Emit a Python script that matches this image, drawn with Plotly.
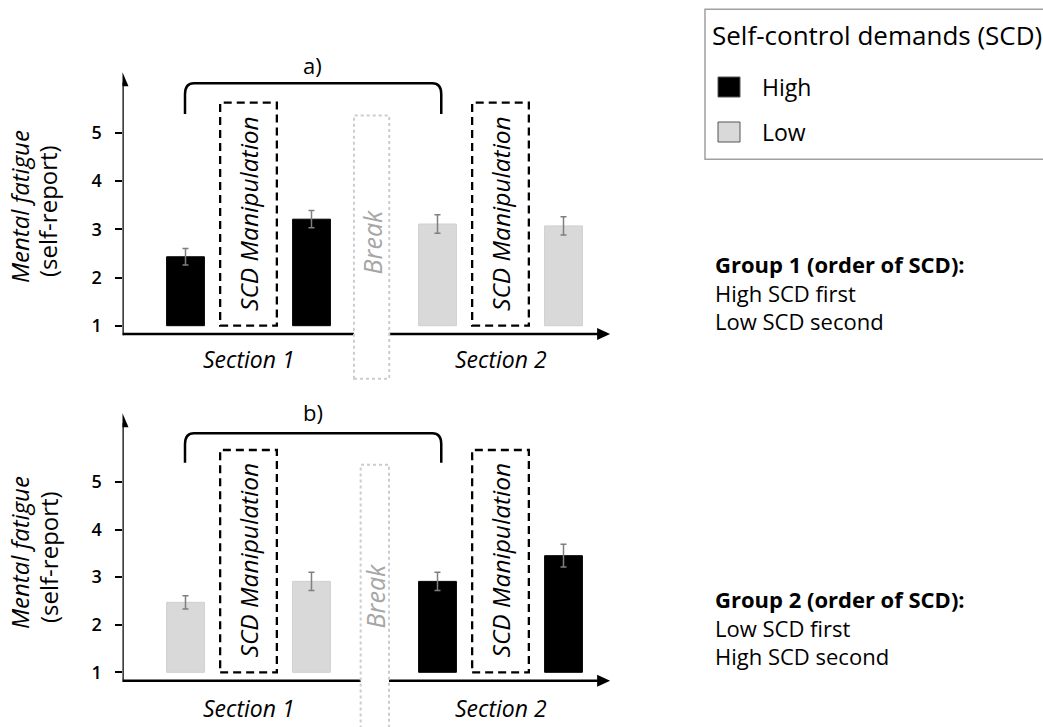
import plotly.graph_objects as go

W, H = 1043, 727

# ---- data -------------------------------------------------------------
scd_levels = ["High", "Low"]
colors = {"High": "#000000", "Low": "#d9d9d9"}

# Group 1: high SCD in section 1, low SCD in section 2
g1_high_pos = [0.5, 1.5]
g1_high = [2.43, 3.21]
g1_high_err = [0.17, 0.18]
g1_low_pos = [2.5, 3.5]
g1_low = [3.11, 3.07]
g1_low_err = [0.19, 0.19]

# Group 2: low SCD in section 1, high SCD in section 2
g2_low_pos = [0.5, 1.5]
g2_low = [2.47, 2.91]
g2_low_err = [0.14, 0.19]
g2_high_pos = [2.5, 3.5]
g2_high = [2.91, 3.45]
g2_high_err = [0.19, 0.24]

y_ticks = [1, 2, 3, 4, 5]
section_labels = ["Section 1", "Section 2"]
panel_labels = ["a)", "b)"]
group_texts = [
    "<b>Group 1 (order of SCD):</b><br>High SCD first<br>Low SCD second",
    "<b>Group 2 (order of SCD):</b><br>Low SCD first<br>High SCD second",
]

# ---- layout geometry (pixels) ------------------------------------------
UNIT = 126.0                  # px per x unit
X0_PX, X1_PX = 122.5, 630.0
panels = [
    dict(y1=325.7, ppu=48.2, top=50, bot=380, xline=0.828, ytip=6.26,
         brk=(1.837, 2.117, 5.36, -0.1), box_top=5.63, br_b=5.39, br_t=6.03,
         lab_y=6.41, sec_y=0.31, brk_txt=2.72, title_y=(207, 211), group_y=293),
    dict(y1=672.3, ppu=47.6, top=395, bot=727, xline=0.824, ytip=6.44,
         brk=(1.89, 2.115, 5.36, -0.2), box_top=5.67, br_b=5.40, br_t=6.02,
         lab_y=6.47, sec_y=0.24, brk_txt=2.59, title_y=(553, 557), group_y=627),
]

FONT = "Open Sans"

fig = go.Figure()

series = [
    [(g1_high_pos, g1_high, g1_high_err, "High"), (g1_low_pos, g1_low, g1_low_err, "Low")],
    [(g2_low_pos, g2_low, g2_low_err, "Low"), (g2_high_pos, g2_high, g2_high_err, "High")],
]

for i, panel_series in enumerate(series):
    xa = "x" if i == 0 else "x2"
    ya = "y" if i == 0 else "y2"
    for pos, vals, errs, lvl in panel_series:
        fig.add_trace(go.Bar(
            x=pos, y=[v - 1 for v in vals], base=1,
            width=0.30, xaxis=xa, yaxis=ya, name=lvl, showlegend=False,
            marker=dict(color=colors[lvl],
                        line=dict(color=colors[lvl] if lvl == "High" else "#cfcfcf", width=1)),
            error_y=dict(type="data", array=errs, color="#7f7f7f", thickness=1.5, width=3),
            customdata=vals, hovertemplate="%{customdata:.2f}<extra>" + lvl + "</extra>",
        ))

shapes = []
annotations = []
layout_axes = {}

for i, p in enumerate(panels):
    xa = "x" if i == 0 else "x2"
    ya = "y" if i == 0 else "y2"
    xkey = "xaxis" if i == 0 else "xaxis2"
    ykey = "yaxis" if i == 0 else "yaxis2"
    ylo = 1 - (p["bot"] - p["y1"]) / p["ppu"]
    yhi = 1 + (p["y1"] - p["top"]) / p["ppu"]
    layout_axes[xkey] = dict(domain=[X0_PX / W, X1_PX / W], range=[0, (X1_PX - X0_PX) / UNIT],
                             visible=False, fixedrange=True, anchor=ya)
    layout_axes[ykey] = dict(domain=[1 - p["bot"] / H, 1 - p["top"] / H], range=[ylo, yhi],
                             tickvals=y_ticks, ticks="outside", ticklen=7, tickwidth=1.5,
                             tickcolor="#000", showgrid=False, zeroline=False, showline=False,
                             ticklabelstandoff=9,
                             tickfont=dict(family=FONT, size=18, color="#000", weight=600),
                             fixedrange=True, anchor=xa)

    px_x = 1 / UNIT
    px_y = 1 / p["ppu"]

    # x axis line with arrow
    x_tip = 3.87
    shapes.append(dict(type="line", xref=xa, yref=ya, x0=0, x1=x_tip - 10 * px_x,
                       y0=p["xline"], y1=p["xline"], line=dict(color="#000", width=2.5)))
    shapes.append(dict(type="path", xref=xa, yref=ya, fillcolor="#000", line=dict(width=0),
                       path=f"M {x_tip},{p['xline']} L {x_tip - 13 * px_x},{p['xline'] + 6 * px_y} "
                            f"L {x_tip - 13 * px_x},{p['xline'] - 6 * px_y} Z"))
    # y axis line with arrow
    shapes.append(dict(type="line", xref=xa, yref=ya, x0=0, x1=0,
                       y0=p["xline"] - 1.2 * px_y, y1=p["ytip"] - 10 * px_y,
                       line=dict(color="#000", width=2.5)))
    shapes.append(dict(type="path", xref=xa, yref=ya, fillcolor="#000", line=dict(width=0),
                       path=f"M 0,{p['ytip']} L {-6 * px_x},{p['ytip'] - 14 * px_y} "
                            f"L {6 * px_x},{p['ytip'] - 14 * px_y} Z"))

    # SCD manipulation boxes and section labels
    for cx, lab in zip([1.0, 3.0], section_labels):
        shapes.append(dict(type="rect", xref=xa, yref=ya, x0=cx - 0.225, x1=cx + 0.225,
                           y0=1.0, y1=p["box_top"], fillcolor="rgba(0,0,0,0)",
                           line=dict(color="#000", width=2.3, dash="8px,5px")))
        annotations.append(dict(xref=xa, yref=ya, x=cx, y=3.33 if i == 0 else 3.36,
                                text="<i>SCD Manipulation</i>", textangle=-90, showarrow=False,
                                xanchor="center", yanchor="middle",
                                font=dict(family=FONT, size=24.5, color="#000")))
        annotations.append(dict(xref=xa, yref=ya, x=cx, y=p["sec_y"],
                                text=f"<i>{lab}</i>", showarrow=False,
                                xanchor="center", yanchor="middle",
                                font=dict(family=FONT, size=23, color="#000")))

    # break strip covering the x axis
    bx0, bx1, by1, by0 = p["brk"]
    shapes.append(dict(type="rect", xref=xa, yref=ya, x0=bx0, x1=bx1, y0=by0, y1=by1,
                       fillcolor="#ffffff", line=dict(color="#cccccc", width=2, dash="dot")))
    annotations.append(dict(xref=xa, yref=ya, x=(bx0 + bx1) / 2, y=p["brk_txt"],
                            text="<i>Break</i>", textangle=-90, showarrow=False,
                            xanchor="center", yanchor="middle",
                            font=dict(family=FONT, size=25, color="#a6a6a6")))

    # bracket spanning the first section
    xl, xr = 0.496, 2.53
    yb, yt = p["br_b"], p["br_t"]
    rx, ry = 9 * px_x, 11 * px_y
    shapes.append(dict(type="path", xref=xa, yref=ya, line=dict(color="#000", width=2.5),
                       path=(f"M {xl},{yb} L {xl},{yt - ry} Q {xl},{yt} {xl + rx},{yt} "
                             f"L {xr - rx},{yt} Q {xr},{yt} {xr},{yt - ry} L {xr},{yb}")))
    annotations.append(dict(xref=xa, yref=ya, x=1.51, y=p["lab_y"], text=panel_labels[i],
                            showarrow=False, xanchor="center", yanchor="middle",
                            font=dict(family=FONT, size=22, color="#000")))

    # y axis title, two rotated lines
    for txt, xc, yc in zip(["<i>Mental fatigue</i>", "(self-report)"], [19, 48], p["title_y"]):
        annotations.append(dict(xref="paper", yref="paper", x=xc / W, y=1 - yc / H,
                                xanchor="center", yanchor="middle", text=txt, textangle=-90,
                                showarrow=False, font=dict(family=FONT, size=24, color="#000")))

    # group description
    annotations.append(dict(xref="paper", yref="paper", x=713 / W, y=1 - p["group_y"] / H,
                            xanchor="left", yanchor="middle", align="left",
                            text=group_texts[i], showarrow=False,
                            font=dict(family=FONT, size=22, color="#000")))

# legend box
shapes.append(dict(type="rect", xref="paper", yref="paper", x0=705 / W, x1=1060 / W,
                   y0=1 - 159.3 / H, y1=1 - 9.3 / H, fillcolor="rgba(0,0,0,0)",
                   line=dict(color="#a0a0a0", width=1.5)))
annotations.append(dict(xref="paper", yref="paper", x=710 / W, y=1 - 35 / H,
                        xanchor="left", yanchor="middle", text="Self-control demands (SCD)",
                        showarrow=False, font=dict(family=FONT, size=26, color="#000")))
for lvl, yc in zip(scd_levels, [87, 132]):
    shapes.append(dict(type="rect", xref="paper", yref="paper", x0=718 / W, x1=740 / W,
                       y0=1 - (yc + 10) / H, y1=1 - (yc - 10) / H, fillcolor=colors[lvl],
                       line=dict(color="#555555", width=1)))
    annotations.append(dict(xref="paper", yref="paper", x=760 / W, y=1 - yc / H,
                            xanchor="left", yanchor="middle", text=lvl, showarrow=False,
                            font=dict(family=FONT, size=23, color="#000")))

fig.update_layout(
    width=W, height=H, margin=dict(l=0, r=0, t=0, b=0),
    paper_bgcolor="#ffffff", plot_bgcolor="#ffffff",
    barmode="overlay", showlegend=False,
    shapes=shapes, annotations=annotations, **layout_axes,
)

fig.write_html("out.html")
